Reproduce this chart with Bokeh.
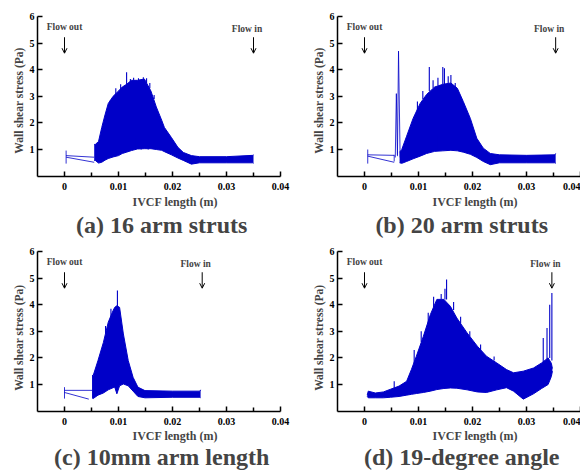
import math
from bokeh.plotting import figure
from bokeh.layouts import gridplot
from bokeh.models import Range1d, FixedTicker, Label, Arrow, OpenHead
from bokeh.embed import file_html
from bokeh.resources import INLINE

BLUE = "#0000c8"
FONT = "Liberation Serif"

# ---- axes ticks ----
x_ticks = [0, 0.01, 0.02, 0.03, 0.04]
x_tick_labels = ["0", "0.01", "0.02", "0.03", "0.04"]
x_minor_ticks = [0.005, 0.015, 0.025, 0.035]
y_ticks = [1, 2, 3, 4, 5, 6]
y_tick_labels = ["1", "2", "3", "4", "5", "6"]

titles = ["(a) 16 arm struts", "(b) 20 arm struts", "(c) 10mm arm length", "(d) 19-degree angle"]
flow_in_pos = [0.035, 0.0354, 0.0255, 0.0347]

# ---- (a) 16 arm struts: envelope of the oscillating WSS band ----
a_x = [0.0055, 0.0057, 0.0063, 0.0069, 0.0075, 0.0081, 0.009, 0.010, 0.0107, 0.0115, 0.0124, 0.0135,
       0.0148, 0.016, 0.017, 0.018, 0.0185, 0.0198, 0.021, 0.022, 0.0235, 0.025, 0.030, 0.0349, 0.035]
a_upper = [1.19, 1.19, 1.3, 1.83, 2.3, 2.73, 3.0, 3.2, 3.35, 3.45, 3.6, 3.6,
           3.65, 3.2, 2.6, 2.1, 1.83, 1.45, 1.08, 0.89, 0.77, 0.73, 0.73, 0.78, 0.8]
a_lower = [0.59, 0.59, 0.49, 0.52, 0.6, 0.66, 0.72, 0.77, 0.85, 0.9, 0.96, 1.02,
           1.03, 1.03, 1.0, 0.97, 0.92, 0.8, 0.68, 0.59, 0.45, 0.5, 0.5, 0.5, 0.48]
a_lead_x0 = [0.0003, 0.0003, 0.0003]
a_lead_y0 = [0.47, 0.77, 0.71]
a_lead_x1 = [0.0003, 0.0055, 0.0055]
a_lead_y1 = [0.96, 0.71, 0.52]
a_spike_x = [0.0085, 0.0095, 0.0104, 0.0115, 0.0122, 0.0128, 0.0137, 0.0146, 0.0152, 0.0158, 0.0166,
             0.0112, 0.0131, 0.0142, 0.0155]
a_spike_base = [2.5, 3.0, 3.2, 3.4, 3.5, 3.6, 3.6, 3.6, 3.5, 3.3, 2.9,
                1.0, 1.0, 1.0, 1.0]
a_spike_top = [2.85, 3.3, 3.45, 3.9, 3.65, 3.7, 3.68, 3.72, 3.68, 3.5, 3.05,
               1.5, 1.45, 1.6, 1.5]

# ---- (b) 20 arm struts ----
b_x = [0.0065, 0.0069, 0.0078, 0.009, 0.0103, 0.0115, 0.013, 0.0145, 0.016, 0.0172, 0.0183,
       0.0196, 0.0208, 0.022, 0.0233, 0.025, 0.030, 0.0352, 0.0354]
b_upper = [0.9, 1.0, 1.5, 2.17, 2.73, 3.07, 3.35, 3.45, 3.5, 3.3, 2.8,
           2.17, 1.42, 1.05, 0.85, 0.8, 0.78, 0.8, 0.85]
b_lower = [0.5, 0.48, 0.55, 0.65, 0.75, 0.85, 0.93, 0.95, 0.97, 0.95, 0.9,
           0.82, 0.7, 0.55, 0.43, 0.5, 0.5, 0.5, 0.48]
b_lead_x0 = [0.0006, 0.0006, 0.0006, 0.0055, 0.0057, 0.0059, 0.0061, 0.0063]
b_lead_y0 = [0.47, 0.8, 0.75, 0.55, 0.7, 3.1, 0.8, 4.7]
b_lead_x1 = [0.0006, 0.0055, 0.0055, 0.0055, 0.0059, 0.0061, 0.0063, 0.0066]
b_lead_y1 = [1.0, 0.78, 0.52, 0.8, 3.1, 0.75, 4.7, 0.7]
b_spike_x = [0.0098, 0.0108, 0.012, 0.0127, 0.0136, 0.0145, 0.0148, 0.0155, 0.016, 0.0168,
             0.0115, 0.0135, 0.0152]
b_spike_base = [2.4, 2.9, 3.2, 3.3, 3.4, 3.45, 3.45, 3.5, 3.5, 3.35,
                0.9, 0.95, 0.97]
b_spike_top = [2.8, 3.2, 4.1, 3.6, 3.7, 4.1, 4.05, 3.75, 3.8, 3.5,
               1.4, 1.5, 1.45]

# ---- (c) 10mm arm length ----
c_x = [0.0051, 0.0053, 0.0062, 0.0072, 0.0081, 0.009, 0.0093, 0.0097, 0.0102, 0.0109, 0.0118,
       0.0127, 0.0136, 0.0149, 0.020, 0.0251, 0.0252]
c_upper = [1.35, 1.33, 1.9, 2.58, 3.34, 3.78, 3.9, 3.96, 3.9, 2.9, 1.9,
           1.27, 0.9, 0.77, 0.75, 0.75, 0.8]
c_lower = [0.5, 0.47, 0.6, 0.68, 0.8, 0.88, 0.9, 0.65, 0.95, 1.02, 0.95,
           0.75, 0.55, 0.5, 0.52, 0.52, 0.5]
c_lead_x0 = [0.0, 0.0, 0.0]
c_lead_y0 = [0.47, 0.78, 0.7]
c_lead_x1 = [0.0, 0.0051, 0.0045]
c_lead_y1 = [0.9, 0.78, 0.45]
c_spike_x = [0.0076, 0.0086, 0.0098, 0.0092, 0.0088]
c_spike_base = [2.9, 3.5, 3.9, 1.0, 0.9]
c_spike_top = [3.2, 3.85, 4.53, 1.5, 1.4]

# ---- (d) 19-degree angle ----
d_x = [0.0005, 0.0007, 0.002, 0.0035, 0.0048, 0.0064, 0.0078, 0.0087, 0.0096, 0.0109, 0.0122,
       0.0134, 0.0147, 0.0159, 0.0171, 0.019, 0.0209, 0.0226, 0.0245, 0.0263, 0.0276, 0.0294,
       0.0313, 0.0328, 0.0340, 0.0346, 0.0348]
d_upper = [0.6, 0.75, 0.68, 0.72, 0.82, 0.94, 1.12, 1.57, 2.06, 2.81, 3.63,
           4.2, 4.2, 3.94, 3.5, 2.94, 2.44, 2.06, 1.81, 1.56, 1.44, 1.5,
           1.62, 1.81, 2.0, 1.8, 1.6]
d_lower = [0.55, 0.5, 0.5, 0.5, 0.52, 0.55, 0.6, 0.63, 0.66, 0.7, 0.75,
           0.81, 0.85, 0.87, 0.86, 0.8, 0.72, 0.7, 0.8, 0.88, 0.75, 0.45,
           0.65, 0.85, 1.0, 1.3, 1.5]
d_lead_x0 = []
d_lead_y0 = []
d_lead_x1 = []
d_lead_y1 = []
d_spike_x = [0.0055, 0.0092, 0.0105, 0.0118, 0.0128, 0.0142, 0.0149, 0.0152, 0.0165, 0.0178,
             0.0195, 0.0215, 0.024, 0.0331, 0.0338, 0.0343, 0.0347]
d_spike_base = [0.85, 1.8, 2.6, 3.3, 3.9, 4.2, 4.2, 4.2, 3.8, 3.3,
                2.8, 2.3, 1.9, 1.8, 1.9, 2.0, 1.9]
d_spike_top = [1.12, 2.3, 3.0, 3.7, 4.3, 4.4, 4.6, 4.95, 4.1, 3.55,
               3.0, 2.5, 2.05, 2.75, 3.12, 4.0, 4.44]

panels = [
    (a_x, a_upper, a_lower, (a_lead_x0, a_lead_y0, a_lead_x1, a_lead_y1), (a_spike_x, a_spike_base, a_spike_top)),
    (b_x, b_upper, b_lower, (b_lead_x0, b_lead_y0, b_lead_x1, b_lead_y1), (b_spike_x, b_spike_base, b_spike_top)),
    (c_x, c_upper, c_lower, (c_lead_x0, c_lead_y0, c_lead_x1, c_lead_y1), (c_spike_x, c_spike_base, c_spike_top)),
    (d_x, d_upper, d_lower, (d_lead_x0, d_lead_y0, d_lead_x1, d_lead_y1), (d_spike_x, d_spike_base, d_spike_top)),
]

W = 290
ROW_H = [240, 230]          # figure heights of the two rows
Y0_PX = [175.6, 170.6]      # pixel row of y = 0 inside each figure
PX_PER_X = 5400.0           # screen pixels per metre of IVCF length
PX_PER_Y = 26.6             # screen pixels per Pa
axis_px = [37, 47, 37, 47]  # where the y axis sits inside each panel
title_y = [-1.82, -1.74]
xlabel_y = [-0.99, -0.93]
ylabel_y = [2.84, 2.76]


def make_panel(i):
    row = i // 2
    xs, up, lo, lead, spk = panels[i]
    x0 = -0.005 - axis_px[i] / PX_PER_X
    x1 = x0 + W / PX_PER_X
    y1 = Y0_PX[row] / PX_PER_Y
    y0 = -(ROW_H[row] - Y0_PX[row]) / PX_PER_Y
    p = figure(width=W, height=ROW_H[row], output_backend="svg", toolbar_location=None,
               x_range=Range1d(x0, x1), y_range=Range1d(y0, y1),
               min_border_left=0, min_border_right=0,
               min_border_top=0, min_border_bottom=0)
    p.outline_line_color = None
    p.xgrid.visible = False
    p.ygrid.visible = False
    p.background_fill_color = "white"

    p.varea(x=xs, y1=lo, y2=up, fill_color=BLUE)
    p.line(x=xs, y=up, line_color=BLUE, line_width=1)
    p.line(x=xs, y=lo, line_color=BLUE, line_width=1)
    if lead[0]:
        p.segment(x0=lead[0], y0=lead[1], x1=lead[2], y1=lead[3], line_color=BLUE, line_width=1, line_alpha=0.8)
    p.segment(x0=spk[0], y0=spk[1], x1=spk[0], y1=spk[2], line_color=BLUE, line_width=1.1)

    # axes drawn at fixed data locations
    p.xaxis.fixed_location = 0
    p.yaxis.fixed_location = -0.005
    p.xaxis.bounds = (-0.005, 0.04)
    p.yaxis.bounds = (0, 6)
    p.xaxis.ticker = FixedTicker(ticks=x_ticks, minor_ticks=x_minor_ticks)
    p.xaxis.major_label_overrides = {v: s for v, s in zip(x_ticks, x_tick_labels)}
    p.yaxis.ticker = FixedTicker(ticks=y_ticks)
    p.yaxis.major_label_overrides = {v: s for v, s in zip(y_ticks, y_tick_labels)}
    for ax in (p.xaxis[0], p.yaxis[0]):
        ax.axis_line_width = 1.5
        ax.major_tick_line_width = 1.5
        ax.minor_tick_line_width = 1.5
        ax.major_tick_in = 5
        ax.major_tick_out = 0
        ax.minor_tick_in = 4
        ax.minor_tick_out = 0
        ax.major_label_text_font = FONT
        ax.major_label_text_font_style = "bold"
        ax.major_label_text_font_size = "10px"
        ax.major_label_text_color = "black"
    p.xaxis.major_label_standoff = 7
    p.yaxis.major_label_standoff = 3

    # axis titles and panel caption
    p.add_layout(Label(x=-0.005 - 19 / PX_PER_X, y=ylabel_y[row], text="Wall shear stress (Pa)", text_font=FONT,
                       text_font_style="bold", text_font_size="11.5px", angle=math.pi / 2,
                       text_align="center", text_baseline="middle"))
    p.add_layout(Label(x=0.0205, y=xlabel_y[row], text="IVCF length (m)", text_font=FONT,
                       text_font_style="bold", text_font_size="12px",
                       text_align="center", text_baseline="middle"))
    p.add_layout(Label(x=0.018, y=title_y[row], text=titles[i], text_font=FONT,
                       text_font_style="bold", text_font_size="24px",
                       text_align="center", text_baseline="middle"))

    # flow annotations
    fin = flow_in_pos[i]
    p.add_layout(Label(x=0.0, y=5.59, text="Flow out", text_font=FONT, text_font_style="bold",
                       text_font_size="9.5px", text_align="center", text_baseline="middle"))
    p.add_layout(Label(x=fin - 0.0012, y=5.52, text="Flow in", text_font=FONT, text_font_style="bold",
                       text_font_size="9.5px", text_align="center", text_baseline="middle"))
    for ax_x in (0.0, fin):
        p.add_layout(Arrow(x_start=ax_x, y_start=5.22, x_end=ax_x, y_end=4.62,
                           line_width=1, line_color="black",
                           end=OpenHead(size=5, line_width=1, line_color="black")))
    return p


figs = [make_panel(i) for i in range(4)]
grid = gridplot([[figs[0], figs[1]], [figs[2], figs[3]]], toolbar_location=None)

with open("out.html", "w") as f:
    f.write(file_html(grid, INLINE))
